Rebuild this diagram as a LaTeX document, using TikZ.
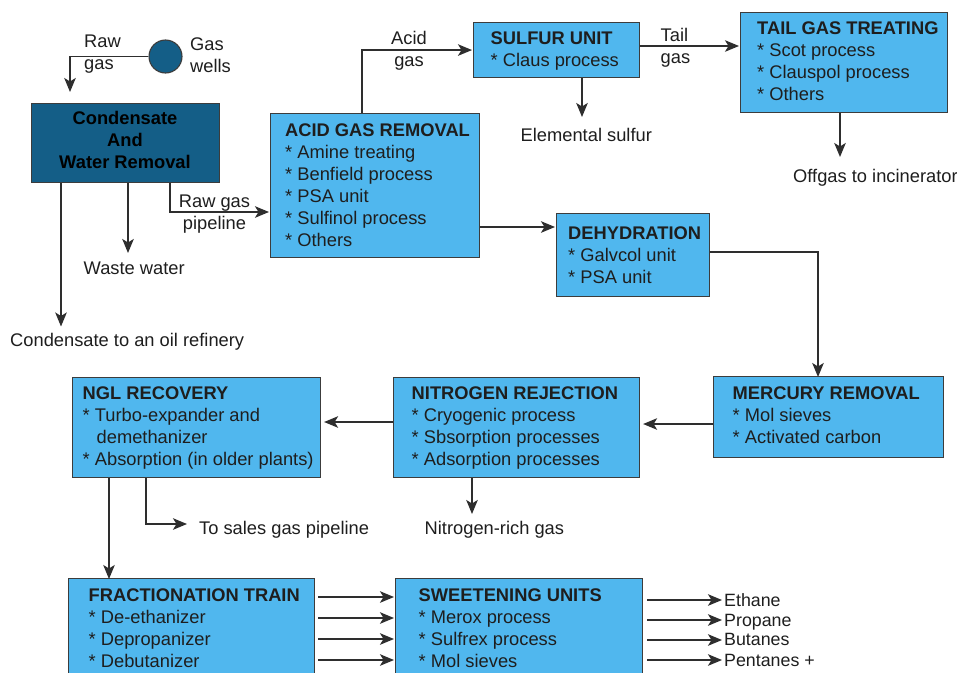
\documentclass[tikz,border=0pt]{standalone}
\usepackage{fontspec}
\setmainfont{Liberation Sans}
\usetikzlibrary{arrows.meta,calc}
\definecolor{lb}{HTML}{50B7EE}
\definecolor{db}{HTML}{145E87}
\definecolor{bd}{HTML}{3C3C3C}
\definecolor{ln}{HTML}{2E2E2E}
\definecolor{tx}{HTML}{1E1E1E}
\begin{document}
\begin{tikzpicture}[x=1pt,y=-1pt,
  box/.style={draw=bd, fill=lb, line width=1.1pt, inner sep=0pt, anchor=north west},
  dbox/.style={box, fill=db},
  txt/.style={text=tx, font=\fontsize{18.3}{22}\selectfont, inner sep=0pt, align=left, anchor=north west},
  ctxt/.style={txt, align=center, anchor=north},
  flow/.style={draw=ln, line width=1.6pt, -{Stealth[length=14pt,width=11.5pt,inset=3.5pt]}},
  line/.style={draw=ln, line width=1.6pt}]
\useasboundingbox (0,0) rectangle (957,672);
\clip (0,0) rectangle (957,672);
\fill[white] (0,0) rectangle (957,672);

% ---------- boxes ----------
\node[dbox, minimum width=188pt, minimum height=79pt] (cond) at (31,103) {};
\node[box, minimum width=209pt, minimum height=144pt] (acid) at (270,113) {};
\node[box, minimum width=166pt, minimum height=55pt] (sulf) at (473,22) {};
\node[box, minimum width=207pt, minimum height=100pt] (tail) at (740,12) {};
\node[box, minimum width=153pt, minimum height=83pt] (dehy) at (556,213) {};
\node[box, minimum width=230pt, minimum height=81pt] (merc) at (713,376) {};
\node[box, minimum width=246pt, minimum height=100pt] (nitro) at (393,377) {};
\node[box, minimum width=248pt, minimum height=100pt] (ngl) at (72,377) {};
\node[box, minimum width=246pt, minimum height=110pt] (frac) at (68,578) {};
\node[box, minimum width=247pt, minimum height=110pt] (sweet) at (395,578) {};
\node[circle, draw=bd, fill=db, line width=1.1pt, minimum size=33pt, inner sep=0pt] (wells) at (165.5,56.5) {};

% ---------- box texts ----------
\node[ctxt, text=black] (condT) at (125,111) {\textbf{Condensate}\\\textbf{And}\\\textbf{Water Removal}};
\node[txt] (acidT) at (285,124) {\textbf{ACID GAS REMOVAL}\\* Amine treating\\* Benfield process\\* PSA unit\\* Sulfinol process\\* Others};
\node[txt] (sulfT) at (490.5,32) {\textbf{SULFUR UNIT}\\* Claus process};
\node[txt] (tailT) at (757,21.5) {\textbf{TAIL GAS TREATING}\\* Scot process\\* Clauspol process\\* Others};
\node[txt] (dehyT) at (568,227) {\textbf{DEHYDRATION}\\* Galvcol unit\\* PSA unit};
\node[txt] (mercT) at (732.5,387) {\textbf{MERCURY REMOVAL}\\* Mol sieves\\* Activated carbon};
\node[txt] (nitroT) at (411.5,387) {\textbf{NITROGEN REJECTION}\\* Cryogenic process\\* Sbsorption processes\\* Adsorption processes};
\node[txt] (nglT) at (82.5,387) {\textbf{NGL RECOVERY}\\* Turbo-expander and\\\hspace*{14pt}demethanizer\\* Absorption (in older plants)};
\node[txt] (fracT) at (88.5,588.5) {\textbf{FRACTIONATION TRAIN}\\* De-ethanizer\\* Depropanizer\\* Debutanizer};
\node[txt] (sweetT) at (418.5,589) {\textbf{SWEETENING UNITS}\\* Merox process\\* Sulfrex process\\* Mol sieves};

% ---------- labels ----------
\node[txt] (lraw) at (84,35) {Raw\\gas};
\node[txt] (lwells) at (190,38) {Gas\\wells};
\node[ctxt] (lacid) at (409,31.5) {Acid\\gas};
\node[txt] (ltail) at (660.5,28.5) {Tail\\gas};
\node[txt] (lsulf) at (520.5,128.5) {Elemental sulfur};
\node[txt] (loff) at (793,169.5) {Offgas to incinerator};
\node[ctxt] (lpipe) at (214.5,195) {Raw gas\\pipeline};
\node[txt] (lwaste) at (83.5,261.5) {Waste water};
\node[txt] (lcond) at (10,333.5) {Condensate to an oil refinery};
\node[txt] (lsales) at (199,521) {To sales gas pipeline};
\node[txt] (lnrich) at (424.5,521) {Nitrogen-rich gas};
\node[txt, font=\fontsize{17.8}{20}\selectfont] (lp1) at (724,593.5) {Ethane};
\node[txt, font=\fontsize{17.8}{20}\selectfont] (lp2) at (724,614) {Propane};
\node[txt, font=\fontsize{17.8}{20}\selectfont] (lp3) at (724,633.5) {Butanes};
\node[txt, font=\fontsize{17.8}{20}\selectfont] (lp4) at (724,654) {Pentanes +};

% ---------- free ends ----------
\coordinate (c0) at (70,92);
\coordinate (c1) at (61,326.5);
\coordinate (c2) at (128,253);
\coordinate (c3) at (170,212);
\coordinate (c4) at (582,117);
\coordinate (c5) at (639,46);
\coordinate (c6) at (840,157);
\coordinate (c7) at (500,227);
\coordinate (c8) at (818,252);
\coordinate (c9) at (680,424);
\coordinate (c10) at (360,422);
\coordinate (c11) at (472,514);
\coordinate (c12) at (146,524);
\coordinate (c12e) at (187,524);
\coordinate (c13) at (109,480);
\coordinate (f1) at (318,597);
\coordinate (f2) at (318,618);
\coordinate (f3) at (318,639);
\coordinate (f4) at (318,660);
\coordinate (p1) at (722,600);
\coordinate (p2) at (722,620);
\coordinate (p3) at (722,640);
\coordinate (p4) at (722,660);

% ---------- connectors ----------
\draw[flow] (wells.west) -| (c0);
\draw[flow] (cond.south -| c1) -- (c1);
\draw[flow] (cond.south -| c2) -- (c2);
\draw[flow] (cond.south -| c3) -- (c3) -- ([xshift=-1pt]acid.west |- c3);
\draw[flow] ($(acid.north west)+(92,0)$) |- ([xshift=-1pt]sulf.west);
\draw[flow] (sulf.south -| c4) -- (c4);
\draw[flow] (sulf.east |- c5) -- ([xshift=-1pt]tail.west |- c5);
\draw[flow] (tail.south -| c6) -- (c6);
\draw[flow] (acid.east |- c7) -- ([xshift=-1pt]dehy.west |- c7);
\draw[flow] (dehy.east |- c8) -- (c8) -- ([yshift=-1pt]merc.north -| c8);
\draw[flow] (merc.west |- c9) -- ([xshift=3pt]nitro.east |- c9);
\draw[flow] (nitro.west |- c10) -- ([xshift=3pt]ngl.east |- c10);
\draw[flow] (nitro.south -| c11) -- (c11);
\draw[flow] (ngl.south -| c12) -- (c12) -- (c12e);
\draw[flow] (ngl.south -| c13) -- ([yshift=-1pt]frac.north -| c13);
\foreach \f in {f1,f2,f3,f4}{
  \draw[flow] (\f) -- ([xshift=-1pt]sweet.west |- \f);
}
\draw[flow] ([xshift=4pt]sweet.east |- p1) -- (p1);
\draw[flow] ([xshift=4pt]sweet.east |- p2) -- (p2);
\draw[flow] ([xshift=4pt]sweet.east |- p3) -- (p3);
\draw[flow] ([xshift=4pt]sweet.east |- p4) -- (p4);
\end{tikzpicture}
\end{document}
